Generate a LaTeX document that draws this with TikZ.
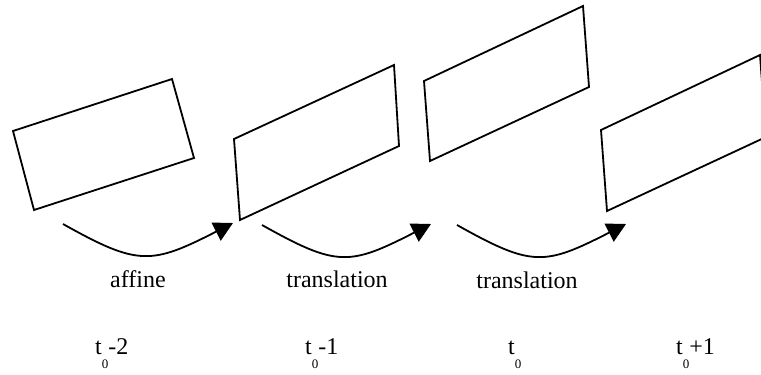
\documentclass[tikz,border=0pt]{standalone}
\usepackage{fontspec}
\setmainfont{Liberation Serif}
\usetikzlibrary{arrows.meta}
\newcommand{\subz}{\raisebox{-14pt}{\fontsize{13}{13}\selectfont 0}}
\begin{document}
\begin{tikzpicture}[x=1pt,y=-1pt,
  frame/.style={draw=black,line width=1.8pt,line join=miter},
  flow/.style={draw=black,line width=1.8pt,-{Triangle[length=19pt,width=20pt]}},
  lbl/.style={font=\fontsize{24}{28}\selectfont,inner sep=0pt,anchor=base},
  tlbl/.style={font=\fontsize{24}{28}\selectfont,inner sep=0pt,anchor=base west}]
\useasboundingbox (0,0) rectangle (761,375);
\clip (0,0) rectangle (761,375);
% frames
\draw[frame] (13,131) -- (172,79) -- (194,158) -- (34,210) -- cycle;
\draw[frame] (234,139) -- (394,65) -- (399,146) -- (240,220) -- cycle;
\draw[frame] (424,81) -- (583,6) -- (589,87) -- (430,161) -- cycle;
\draw[frame] (601,130) -- (760,55) -- (766,137) -- (607,211) -- cycle;
% arrow endpoints
\coordinate (a1) at (63,224);  \coordinate (b1) at (233,223);
\coordinate (a2) at (262,225); \coordinate (b2) at (431,224);
\coordinate (a3) at (457,225); \coordinate (b3) at (626,224);
\draw[flow] (a1) .. controls +(75,42) and +(-82,42) .. (b1);
\draw[flow] (a2) .. controls +(75,42) and +(-82,42) .. (b2);
\draw[flow] (a3) .. controls +(75,42) and +(-82,42) .. (b3);
% labels
\node[lbl] (l1) at (138,287) {affine};
\node[lbl] (l2) at (337,287) {translation};
\node[lbl] (l3) at (527,288) {translation};
\node[tlbl] (t1) at (95,354) {t\subz-2};
\node[tlbl] (t2) at (305,354) {t\subz-1};
\node[tlbl] (t3) at (508,354) {t\subz};
\node[tlbl] (t4) at (676,354) {t\subz+1};
\end{tikzpicture}
\end{document}
